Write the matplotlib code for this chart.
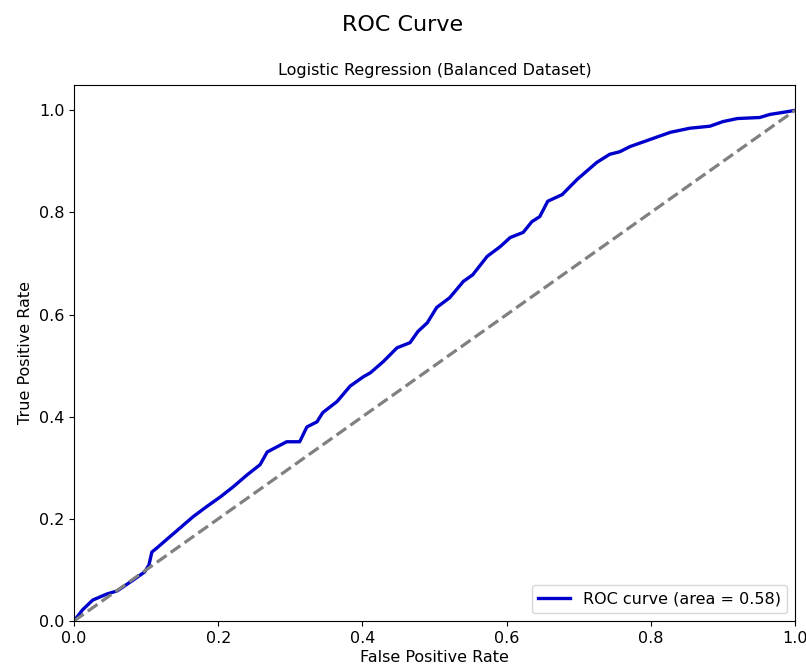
import matplotlib
matplotlib.use("Agg")
import matplotlib.pyplot as plt

# --- ROC points ---
fpr = [0.000, 0.012, 0.026, 0.046, 0.060, 0.082, 0.098, 0.104, 0.108, 0.115,
       0.133, 0.147, 0.165, 0.184, 0.203, 0.221, 0.240, 0.258, 0.268, 0.295,
       0.313, 0.323, 0.337, 0.345, 0.365, 0.383, 0.401, 0.411, 0.429, 0.448,
       0.466, 0.477, 0.490, 0.503, 0.521, 0.540, 0.553, 0.573, 0.591, 0.605,
       0.623, 0.635, 0.646, 0.657, 0.677, 0.698, 0.725, 0.743, 0.757, 0.771,
       0.799, 0.827, 0.854, 0.882, 0.900, 0.920, 0.951, 0.965, 0.983, 1.000]
tpr = [0.000, 0.022, 0.041, 0.053, 0.059, 0.080, 0.096, 0.110, 0.135, 0.143,
       0.165, 0.182, 0.204, 0.224, 0.243, 0.263, 0.286, 0.306, 0.331, 0.351,
       0.351, 0.380, 0.390, 0.408, 0.430, 0.460, 0.478, 0.486, 0.508, 0.535,
       0.545, 0.567, 0.584, 0.614, 0.633, 0.665, 0.678, 0.714, 0.733, 0.751,
       0.761, 0.782, 0.792, 0.822, 0.835, 0.865, 0.898, 0.914, 0.919, 0.929,
       0.943, 0.957, 0.965, 0.969, 0.978, 0.984, 0.986, 0.992, 0.996, 1.000]
roc_auc = 0.58
chance = [0, 1]


def main():
    plt.rcParams['font.size'] = 11.5

    fig = plt.figure(figsize=(8.06, 6.68), dpi=100)
    ax = fig.add_axes([0.0918, 0.0704, 0.8946, 0.8026])

    ax.plot(fpr, tpr, color='mediumblue', lw=2.4, label=f'ROC curve (area = {roc_auc:.2f})')
    ax.plot(chance, chance, color='gray', lw=2.3, linestyle='--')

    ax.set_xlim([0.0, 1.0])
    ax.set_ylim([0.0, 1.05])
    ax.set_xlabel('False Positive Rate', fontsize=11.5, labelpad=3)
    ax.set_ylabel('True Positive Rate', fontsize=11.5)
    ax.set_title('Logistic Regression (Balanced Dataset)', fontsize=11.5, pad=7)
    fig.suptitle('ROC Curve', fontsize=16, y=0.978)
    ax.legend(loc='lower right', fontsize=11.5)

    fig.savefig('out.png', dpi=100)


if __name__ == "__main__":
    main()
